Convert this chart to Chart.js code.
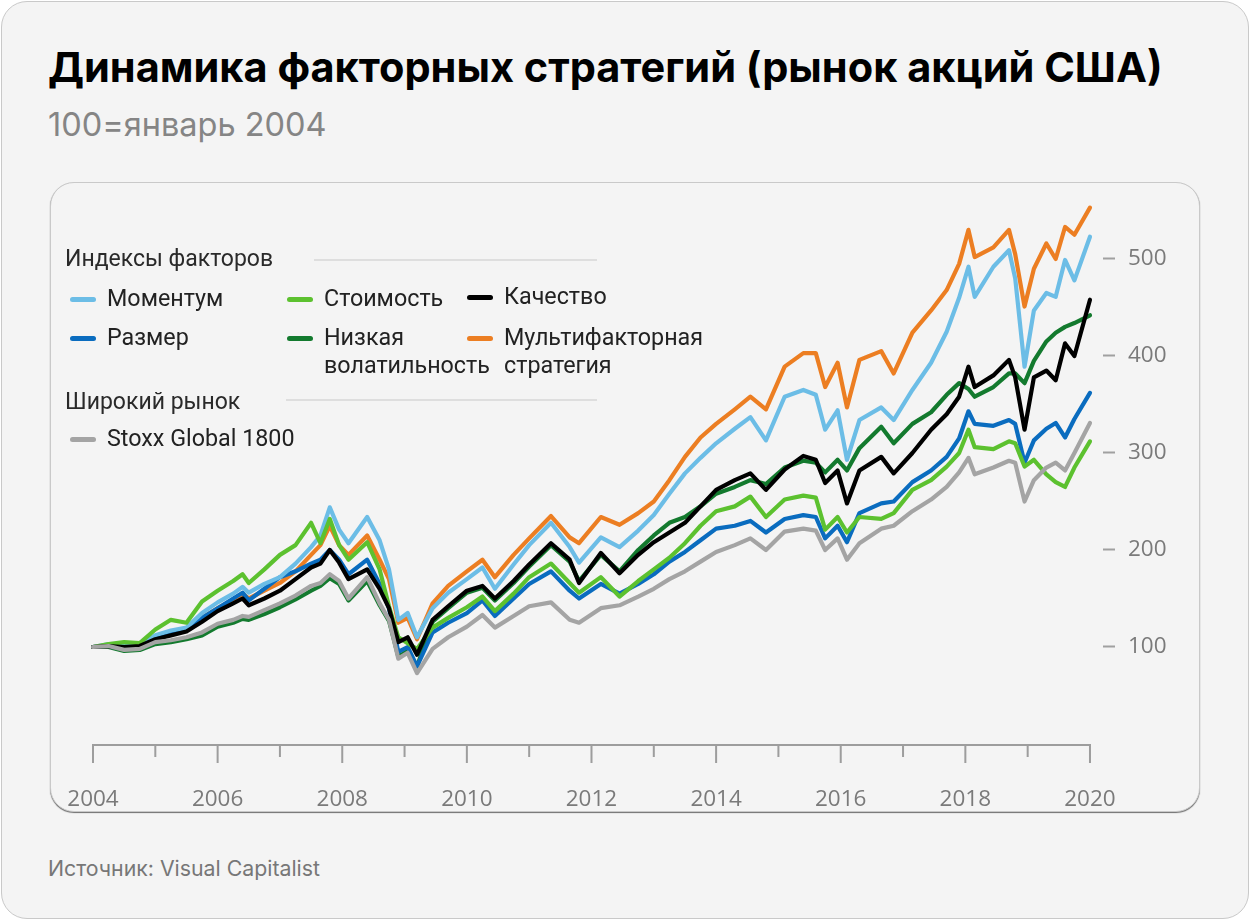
<!DOCTYPE html>
<html lang="ru">
<head>
<meta charset="utf-8">
<script src="https://cdn.jsdelivr.net/npm/chart.js@4.4.1/dist/chart.umd.min.js"></script>
<style>
  html,body{margin:0;padding:0;background:#ffffff;}
  body{width:1250px;height:921px;position:relative;overflow:hidden;font-family:"Roboto","Liberation Sans",sans-serif;}
  .card{position:absolute;left:1px;top:1px;width:1246px;height:916px;border:1px solid #c9c9c9;border-radius:26px;background:#f4f4f4;}
  .title{position:absolute;left:48px;top:42px;font-family:"Inter",sans-serif;font-weight:700;font-size:41.5px;color:#000;white-space:nowrap;}
  .subtitle{position:absolute;left:48px;top:105px;font-family:"Inter",sans-serif;font-size:32.5px;color:#858585;white-space:nowrap;}
  .source{position:absolute;left:48px;top:855px;font-family:"Inter",sans-serif;font-size:21.3px;color:#777;white-space:nowrap;}
  .panel{position:absolute;left:50px;top:182px;width:1148px;height:628px;border:1px solid #c9c9c9;border-radius:24px;background:#f4f4f4;box-shadow:0 1px 1px rgba(0,0,0,0.55);}
  #wrap{position:absolute;left:50px;top:182px;width:1150px;height:630px;}
  .lg{position:absolute;font-family:"Roboto",sans-serif;font-size:23.3px;color:#222;white-space:nowrap;line-height:28px;}
  .hd{color:#2a2a2a;font-size:23px;}
  .sw{position:absolute;height:5px;width:26px;border-radius:3px;}
  .rule{position:absolute;height:2px;background:#dedede;}
</style>
</head>
<body>
<div class="card"></div>
<div class="title">Динамика факторных стратегий (рынок акций США)</div>
<div class="subtitle">100=январь 2004</div>
<div class="panel"></div>
<div id="wrap"><canvas id="c" width="1150" height="630" style="width:1150px;height:630px"></canvas></div>
<div id="legend"></div>
<div class="source">Источник: Visual Capitalist</div>
<script>
// ---- data (decimal years, 100 = Jan 2004) ----
const dates = [2004.0,2004.25,2004.5,2004.75,2005.0,2005.25,2005.5,2005.75,2006.0,2006.25,2006.4,2006.5,2006.75,2007.0,2007.25,2007.5,2007.65,2007.8,2007.95,2008.1,2008.4,2008.6,2008.75,2008.9,2009.05,2009.2,2009.45,2009.7,2010.0,2010.25,2010.45,2010.75,2011.0,2011.35,2011.65,2011.8,2012.15,2012.45,2012.75,2013.0,2013.25,2013.5,2013.75,2014.0,2014.3,2014.55,2014.8,2015.1,2015.4,2015.6,2015.75,2015.95,2016.1,2016.3,2016.65,2016.85,2017.15,2017.45,2017.7,2017.9,2018.05,2018.15,2018.45,2018.7,2018.8,2018.95,2019.1,2019.3,2019.45,2019.6,2019.75,2020.0];

const stoxx = [100,101,97,98,105,107,110,115,124,128,132,131,138,145,153,163,166,175,168,150,172,145,128,88,94,73,98,110,121,133,120,132,142,146,128,125,140,143,152,160,170,178,188,198,205,212,200,219,222,220,200,212,190,207,222,225,240,252,265,280,295,278,285,292,290,250,272,285,290,282,300,331];

const value = [100,103,105,104,118,128,125,147,158,168,175,166,180,195,205,228,207,232,205,190,208,180,142,110,104,98,120,130,141,152,137,155,172,186,166,156,172,152,168,180,192,207,225,240,245,255,234,252,256,254,221,234,218,234,232,238,262,272,286,300,324,306,304,312,310,286,293,278,270,265,285,312];

const momentum = [100,103,102,103,112,117,120,135,146,155,162,156,165,172,186,203,215,244,221,207,234,210,180,128,135,110,140,156,170,182,160,185,205,228,203,187,213,203,220,236,258,279,295,310,325,337,313,358,365,360,324,344,293,334,347,334,365,393,425,460,492,461,492,509,480,389,447,465,461,499,478,523];

const multifactor = [100,102,101,102,110,114,117,130,140,148,155,150,158,166,178,195,205,225,205,195,215,190,170,125,130,108,145,163,178,190,172,195,212,235,213,207,234,226,238,250,272,296,316,330,345,358,345,389,403,403,368,393,347,396,405,382,424,447,468,495,530,502,512,530,505,451,490,516,500,533,525,553];

const quality = [100,101,100,101,108,112,116,126,137,145,150,143,150,158,170,182,186,200,187,170,180,160,140,105,110,92,128,142,158,163,150,168,185,207,190,166,197,176,195,208,218,228,245,262,272,279,262,283,297,293,269,282,248,282,296,279,300,324,340,358,389,368,380,396,378,324,378,385,375,413,400,458];

const size = [100,102,101,102,110,114,118,130,140,150,156,148,160,172,178,186,190,200,190,175,190,165,140,95,100,80,115,125,135,148,132,150,165,178,158,150,165,155,165,175,188,198,210,222,225,230,218,232,236,234,212,225,208,238,248,250,270,282,296,315,343,330,328,334,330,290,313,325,331,316,335,362];

const lowVol = [100,100,96,97,103,105,108,112,121,125,129,128,134,141,149,158,163,171,165,148,168,143,127,90,96,80,126,140,156,161,148,166,183,205,188,168,195,178,200,215,228,234,245,258,265,272,268,285,292,290,280,293,282,305,327,310,330,342,360,372,366,358,368,382,382,372,395,415,424,430,434,442];

const yearTicks = [2004,2006,2008,2010,2012,2014,2016,2018,2020];
const valueTicks = [100,200,300,400,500];

// ---- series meta (first = drawn on top) ----
const series = [
  {label:'Stoxx Global 1800', data:stoxx, color:'#a4a4a4'},
  {label:'Качество', data:quality, color:'#000000'},
  {label:'Стоимость', data:value, color:'#5cc12f'},
  {label:'Моментум', data:momentum, color:'#6cbde6'},
  {label:'Размер', data:size, color:'#0a6cbf'},
  {label:'Низкая волатильность', data:lowVol, color:'#137a2e'},
  {label:'Мультифакторная стратегия', data:multifactor, color:'#ec7e22'}
];

// ---- legend (HTML) ----
const legendItems = [
  {t:'Моментум', c:'#6cbde6', x:70, y:299},
  {t:'Стоимость', c:'#5cc12f', x:287, y:299},
  {t:'Качество', c:'#000000', x:467, y:297},
  {t:'Размер', c:'#0a6cbf', x:70, y:338},
  {t:'Низкая<br>волатильность', c:'#137a2e', x:287, y:338},
  {t:'Мультифакторная<br>стратегия', c:'#ec7e22', x:467, y:338},
  {t:'Stoxx Global 1800', c:'#a4a4a4', x:70, y:439}
];
const lg = document.getElementById('legend');
let html = '';
html += '<div class="lg hd" style="left:65px;top:245px">Индексы факторов</div>';
html += '<div class="rule" style="left:314px;top:259px;width:283px"></div>';
html += '<div class="lg hd" style="left:65px;top:388px">Широкий рынок</div>';
html += '<div class="rule" style="left:286px;top:399px;width:311px"></div>';
legendItems.forEach(it=>{
  html += '<div class="sw" style="left:'+it.x+'px;top:'+(it.y-2)+'px;background:'+it.c+'"></div>';
  html += '<div class="lg" style="left:'+(it.x+37)+'px;top:'+(it.y-15)+'px">'+it.t+'</div>';
});
lg.innerHTML = html;

// ---- custom x axis line with major/minor ticks ----
const xAxisPlugin = {
  id:'xAxisLine',
  afterDatasetsDraw(chart){
    const ctx = chart.ctx, xs = chart.scales.x;
    const y0 = chart.chartArea.bottom + 1;
    ctx.save();
    ctx.strokeStyle = '#9d9d9d';
    ctx.lineWidth = 2;
    ctx.beginPath();
    ctx.moveTo(xs.getPixelForValue(2004)-1, y0);
    ctx.lineTo(xs.getPixelForValue(2020)+1, y0);
    for(let yr=2004; yr<=2020; yr++){
      const px = xs.getPixelForValue(yr);
      ctx.moveTo(px, y0);
      ctx.lineTo(px, y0 + (yr % 2 === 0 ? 18 : 12));
    }
    ctx.stroke();
    ctx.restore();
  }
};

const ctx = document.getElementById('c').getContext('2d');
new Chart(ctx, {
  type:'line',
  data:{
    datasets: series.map(s=>({
      label:s.label,
      data:dates.map((d,i)=>({x:d,y:s.data[i]})),
      borderColor:s.color,
      backgroundColor:s.color,
      borderWidth:4.2,
      pointRadius:0,
      tension:0,
      borderJoinStyle:'round',
      borderCapStyle:'round',
      clip:false
    }))
  },
  options:{
    responsive:false,
    animation:false,
    events:[],
    layout:{padding:{left:43, top:30, right:0, bottom:0}},
    plugins:{legend:{display:false}, tooltip:{enabled:false}},
    scales:{
      x:{
        type:'linear',
        min:2004,
        max:2020.209,
        afterBuildTicks(scale){ scale.ticks = yearTicks.map(v=>({value:v})); },
        afterFit(scale){ scale.height = 68; },
        grid:{display:true, drawOnChartArea:false, drawTicks:true, tickLength:42, tickColor:'rgba(0,0,0,0)'},
        border:{display:false},
        ticks:{
          autoSkip:false, maxRotation:0, padding:0,
          color:'#7a7a7a',
          font:{family:'"Open Sans", sans-serif', size:22.5},
          callback:(v)=>String(v)
        }
      },
      y:{
        position:'right',
        min:0,
        max:548.45,
        afterBuildTicks(scale){ scale.ticks = valueTicks.map(v=>({value:v})); },
        afterFit(scale){ scale.width = 97; },
        grid:{display:true, drawOnChartArea:false, drawTicks:true, tickLength:12, tickColor:'#a0a0a0', tickWidth:2},
        border:{display:false},
        ticks:{
          padding:13,
          color:'#7a7a7a',
          font:{family:'"Open Sans", sans-serif', size:22.5},
          callback:(v)=>String(v)
        }
      }
    }
  },
  plugins:[xAxisPlugin]
});
</script>
</body>
</html>
